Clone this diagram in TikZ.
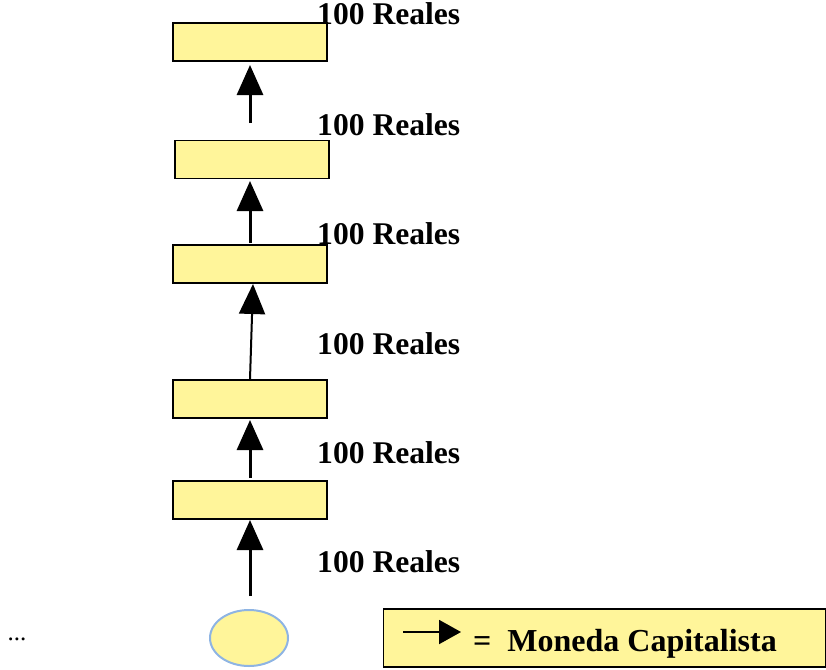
\documentclass[tikz,border=0pt]{standalone}
\usepackage{fontspec}
\setmainfont{Liberation Serif}
\usetikzlibrary{arrows.meta,shapes.geometric}
\definecolor{boxyellow}{HTML}{FFF59A}
\definecolor{ellblue}{HTML}{8EB4E3}
\tikzset{
  coinbox/.style={draw=black, line width=1.5pt, fill=boxyellow, minimum width=154pt, minimum height=38pt, inner sep=0pt},
  lbl/.style={font=\fontsize{31.6}{34}\selectfont\bfseries, anchor=base west, inner sep=0pt},
  arr/.style={line width=3pt, -{Triangle[length=30pt,width=26pt]}},
  thinarr/.style={line width=2pt, -{Triangle[length=30pt,width=26pt]}},
}
\begin{document}
\begin{tikzpicture}[x=1pt,y=1pt]
\useasboundingbox (0,0) rectangle (826,-669);
% boxes
\node[coinbox] (b1) at (250,-42) {};
\node[coinbox] (b2) at (252,-159.5) {};
\node[coinbox] (b3) at (250,-264) {};
\node[coinbox] (b4) at (250,-399) {};
\node[coinbox] (b5) at (250,-500) {};
\node[ellipse, draw=ellblue, line width=2pt, fill=boxyellow, minimum width=78pt, minimum height=56pt, inner sep=0pt] (e) at (249,-638) {};
% labels
\node[lbl] (l1) at (317,-25) {100 Reales};
\node[lbl] (l2) at (317,-135) {100 Reales};
\node[lbl] (l3) at (317,-244) {100 Reales};
\node[lbl] (l4) at (317,-354) {100 Reales};
\node[lbl] (l5) at (317,-463) {100 Reales};
\node[lbl] (l6) at (317,-572) {100 Reales};
% arrows
\coordinate (s1) at (250,-123);
\coordinate (t1) at (250,-65);
\draw[arr] (s1) -- (t1);
\coordinate (s2) at (250,-243);
\coordinate (t2) at (250,-181);
\draw[arr] (s2) -- (t2);
\coordinate (t3) at (253,-284);
\draw[thinarr] (b4.north) -- (t3);
\coordinate (s4) at (250,-478);
\coordinate (t4) at (250,-420);
\draw[arr] (s4) -- (t4);
\coordinate (s5) at (250,-596);
\coordinate (t5) at (250,-520);
\draw[arr] (s5) -- (t5);
% dots
\node[font=\fontsize{25}{27}\selectfont, anchor=base] (dots) at (17,-640) {...};
% legend
\node[draw=black, line width=1.5pt, fill=boxyellow, minimum width=442pt, minimum height=58pt, inner sep=0pt] (leg) at (604.5,-638) {};
\coordinate (la) at (403,-632);
\coordinate (lb) at (461,-632);
\draw[line width=2pt, -{Triangle[length=22pt,width=24pt]}] (la) -- (lb);
\node[font=\fontsize{32}{34}\selectfont\bfseries, anchor=base west, inner sep=0pt] (legtxt) at (473,-651) {=\ \ Moneda Capitalista};
\end{tikzpicture}
\end{document}
